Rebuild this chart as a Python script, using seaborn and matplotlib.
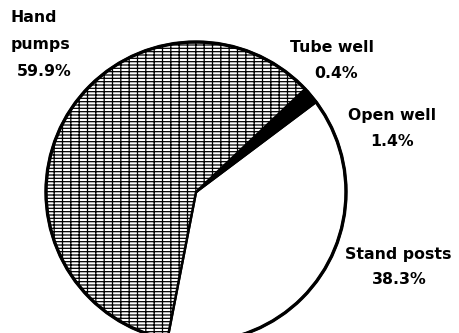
import matplotlib
matplotlib.use("Agg")
import matplotlib.pyplot as plt
import seaborn as sns

sns.set_theme(style="white")
plt.rcParams["font.family"] = ["DejaVu Sans"]
plt.rcParams["hatch.linewidth"] = 0.9
plt.rcParams["hatch.color"] = "black"

# Water sources, listed counter-clockwise from the start angle
categories = ["Stand posts", "Open well", "Tube well", "Hand pumps"]
shares = [38.3, 1.4, 0.4, 59.9]
fills = ["white", "black", "black", "white"]
hatches = ["", "", "", "-----||"]

fig = plt.figure(figsize=(4.59, 3.33), dpi=100)
ax = fig.add_axes([0, 0, 1, 1])

wedges, _ = ax.pie(
    shares,
    colors=fills,
    startangle=-101,
    counterclock=True,
    radius=1.0,
    wedgeprops=dict(edgecolor="black", linewidth=1.8),
)
for w, h in zip(wedges, hatches):
    if h:
        w.set_hatch(h)

# Outer rim drawn a little heavier
rim = plt.Circle((0, 0), 1.0, fill=False, edgecolor="black", linewidth=2.4)
ax.add_patch(rim)

scale = 150.0
cx, cy = 196.0, 192.0
ax.set_xlim(-cx / scale, (459 - cx) / scale)
ax.set_ylim(-(333 - cy) / scale, cy / scale)
ax.set_aspect("auto")
ax.axis("off")

label_style = dict(fontsize=11.3, fontweight="bold", color="black")


def px(x, y):
    return x / 459.0, 1 - y / 333.0


fig.text(*px(11, 18), "Hand", ha="left", va="center", **label_style)
fig.text(*px(11, 45), "pumps", ha="left", va="center", **label_style)
fig.text(*px(44, 72), f"{shares[3]}%", ha="center", va="center", **label_style)

fig.text(*px(332, 47), "Tube well", ha="center", va="center", **label_style)
fig.text(*px(336, 73), f"{shares[2]}%", ha="center", va="center", **label_style)

fig.text(*px(392, 116), "Open well", ha="center", va="center", **label_style)
fig.text(*px(392, 142), f"{shares[1]}%", ha="center", va="center", **label_style)

fig.text(*px(398, 254), "Stand posts", ha="center", va="center", **label_style)
fig.text(*px(399, 279), f"{shares[0]}%", ha="center", va="center", **label_style)

fig.savefig("out.png", dpi=100, facecolor="white")
